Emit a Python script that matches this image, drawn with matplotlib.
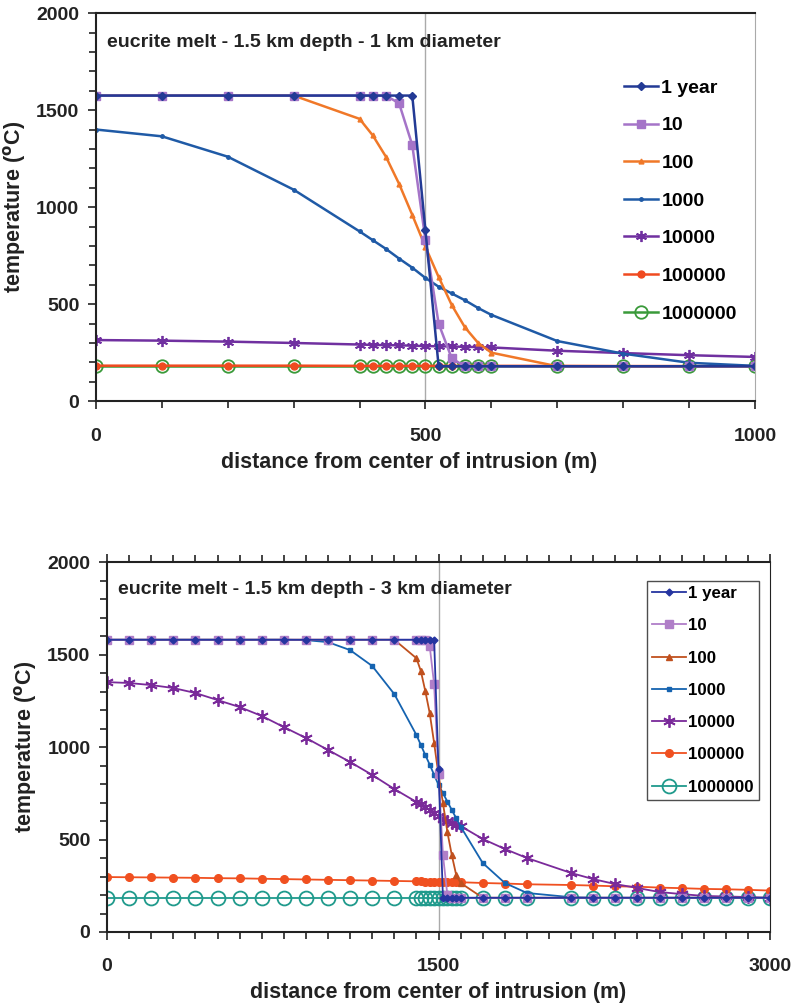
import matplotlib
matplotlib.use("Agg")
import matplotlib.pyplot as plt
from matplotlib.ticker import MultipleLocator

plt.rcParams["font.family"] = ["Liberation Sans", "DejaVu Sans"]
plt.rcParams["font.weight"] = "bold"

# ---- 1 km diameter intrusion ----
x_small = [0, 100, 200, 300, 400, 420, 440, 460, 480, 500, 520, 540, 560, 580, 600,
           700, 800, 900, 1000]
small_1 = [1575, 1575, 1575, 1575, 1575, 1575, 1575, 1575, 1575, 880, 180, 180, 180, 180, 180,
           180, 180, 180, 180]
small_10 = [1575, 1575, 1575, 1575, 1575, 1575, 1575, 1535, 1320, 830, 400, 220, 180, 180, 180,
            180, 180, 180, 180]
small_100 = [1575, 1575, 1575, 1575, 1455, 1370, 1260, 1120, 960, 795, 640, 495, 380, 300, 250,
             180, 180, 180, 180]
small_1000 = [1400, 1365, 1260, 1090, 875, 830, 785, 735, 688, 635, 590, 555, 520, 480, 445,
              310, 245, 198, 182]
small_1e4 = [315, 312, 307, 300, 292, 290, 289, 288, 286, 284, 283, 282, 280, 279, 277,
             260, 248, 237, 228]
small_1e5 = [183, 183, 183, 183, 182, 182, 182, 182, 182, 182, 182, 182, 182, 182, 182,
             182, 181, 181, 181]
small_1e6 = [180] * 19

# ---- 3 km diameter intrusion ----
x_large = [0, 100, 200, 300, 400, 500, 600, 700, 800, 900, 1000, 1100, 1200, 1300,
           1400, 1420, 1440, 1460, 1480, 1500, 1520, 1540, 1560, 1580, 1600,
           1700, 1800, 1900, 2100, 2200, 2300, 2400, 2500, 2600, 2700, 2800, 2900, 3000]
large_1 = [1580] * 19 + [880] + [185] * 18
large_10 = [1580] * 17 + [1546, 1340, 854, 416, 200] + [185] * 16
large_100 = [1580] * 14 + [1480, 1411, 1303, 1184, 1022, 849, 697, 541, 416, 308, 265] + [185] * 13
large_1000 = [1580, 1580, 1580, 1580, 1580, 1580, 1580, 1580, 1580, 1578, 1567, 1524, 1438, 1286,
              1065, 1011, 957, 905, 850, 795, 751, 705, 660, 615, 570,
              373, 265, 211, 188, 185, 185, 185, 185, 185, 185, 185, 185, 185]
large_1e4 = [1351, 1346, 1335, 1319, 1292, 1254, 1216, 1168, 1108, 1049, 984, 919, 849, 773,
             703, 690, 676, 660, 643, 625, 612, 600, 590, 580, 573,
             503, 449, 400, 319, 286, 259, 238, 216, 205, 195, 192, 189, 184]
large_1e5 = [297, 296, 295, 294, 293, 291, 290, 288, 286, 284, 282, 280, 278, 276,
             274, 274, 273, 273, 272, 272, 271, 271, 270, 270, 269,
             265, 262, 258, 254, 251, 247, 245, 240, 237, 233, 231, 228, 224]
large_1e6 = [185] * 38

labels = ["1 year", "10", "100", "1000", "10000", "100000", "1000000"]


def _style_axes(ax, xmax, xmajor, title, right_color):
    ax.set_xlim(0, xmax)
    ax.set_ylim(0, 2000)
    ax.xaxis.set_major_locator(MultipleLocator(xmajor))
    ax.xaxis.set_minor_locator(MultipleLocator(100))
    ax.yaxis.set_major_locator(MultipleLocator(500))
    ax.yaxis.set_minor_locator(MultipleLocator(100))
    ax.tick_params(which="both", direction="out", width=1.2, labelsize=14, colors="#222222")
    ax.tick_params(which="major", length=6)
    ax.tick_params(which="minor", length=5)
    ax.tick_params(axis="x", pad=13)
    ax.tick_params(axis="y", pad=6)
    for side in ("left", "bottom", "top"):
        ax.spines[side].set_linewidth(1.5)
        ax.spines[side].set_color("#222222")
    ax.spines["right"].set_color(right_color)
    ax.set_xlabel("distance from center of intrusion (m)", fontsize=15.5, fontweight="bold",
                  labelpad=7, color="#222222")
    ax.xaxis.set_label_coords(0.475, -0.13)
    ax.set_ylabel("temperature ($^{\\rm o}$C)", fontsize=15.5, fontweight="bold", labelpad=6,
                  color="#222222")
    ax.text(0.017, 0.925, title, transform=ax.transAxes, fontsize=14, fontweight="bold",
            color="#222222", va="center")


fig = plt.figure(figsize=(7.93, 10.08), dpi=100)

# top panel
ax1 = fig.add_axes([0.121, 0.602, 0.831, 0.385])
ax1.axvline(500, color="#aaaaaa", lw=1)
lw = 1.8
ax1.plot(x_small, small_1e6, color="#3a9a3a", lw=lw, marker="o", ms=9, mfc="none", mew=1.3, label=labels[6])
ax1.plot(x_small, small_1e5, color="#f04a20", lw=lw, marker="o", ms=5, label=labels[5])
ax1.plot(x_small, small_1e4, color="#7030a0", lw=lw, marker=(6, 2, 0), ms=8, mew=1.3, label=labels[4])
ax1.plot(x_small, small_1000, color="#1f5aa6", lw=lw, marker="o", ms=2.5, label=labels[3])
ax1.plot(x_small, small_100, color="#f07828", lw=lw, marker="^", ms=3.5, label=labels[2])
ax1.plot(x_small, small_10, color="#a574c8", lw=lw, marker="s", ms=6, label=labels[1])
ax1.plot(x_small, small_1, color="#233a95", lw=lw, marker="D", ms=4.5, label=labels[0])
_style_axes(ax1, 1000, 500, "eucrite melt - 1.5 km depth - 1 km diameter", "#aaaaaa")
h, l = ax1.get_legend_handles_labels()
ax1.legend(h[::-1], l[::-1], loc="upper left", bbox_to_anchor=(0.79, 0.85),
           frameon=False, fontsize=14, labelspacing=1.03, handlelength=1.75,
           handletextpad=0.15, borderaxespad=0)

# bottom panel
ax2 = fig.add_axes([0.135, 0.0754, 0.836, 0.367])
ax2.axvline(1500, color="#aaaaaa", lw=1)
lw = 1.3
ax2.plot(x_large, large_1e6, color="#1f9a8c", lw=lw, marker="o", ms=10, mfc="none", mew=1.3, label=labels[6])
ax2.plot(x_large, large_1e5, color="#f05020", lw=lw, marker="o", ms=5.5, label=labels[5])
ax2.plot(x_large, large_1e4, color="#7a2a9a", lw=lw, marker=(6, 2, 0), ms=9, mew=1.3, label=labels[4])
ax2.plot(x_large, large_1000, color="#1563b0", lw=lw, marker="s", ms=2.8, label=labels[3])
ax2.plot(x_large, large_100, color="#c0501e", lw=lw, marker="^", ms=5, label=labels[2])
ax2.plot(x_large, large_10, color="#b07ec8", lw=lw, marker="s", ms=5.5, label=labels[1])
ax2.plot(x_large, large_1, color="#2535a0", lw=lw, marker="D", ms=3.5, label=labels[0])
_style_axes(ax2, 3000, 1500, "eucrite melt - 1.5 km depth - 3 km diameter", "#222222")
ax2.xaxis.set_label_coords(0.5, -0.135)
ax2.tick_params(axis="x", which="both", top=True, direction="out")
h, l = ax2.get_legend_handles_labels()
leg = ax2.legend(h[::-1], l[::-1], loc="upper left", bbox_to_anchor=(0.814, 0.949),
                 frameon=True, fancybox=False, edgecolor="#222222", fontsize=12.2,
                 labelspacing=1.02, handlelength=2.0, handletextpad=0.15, borderaxespad=0,
                 borderpad=0.3)
leg.get_frame().set_linewidth(1.0)

fig.savefig("out.png", dpi=100)
